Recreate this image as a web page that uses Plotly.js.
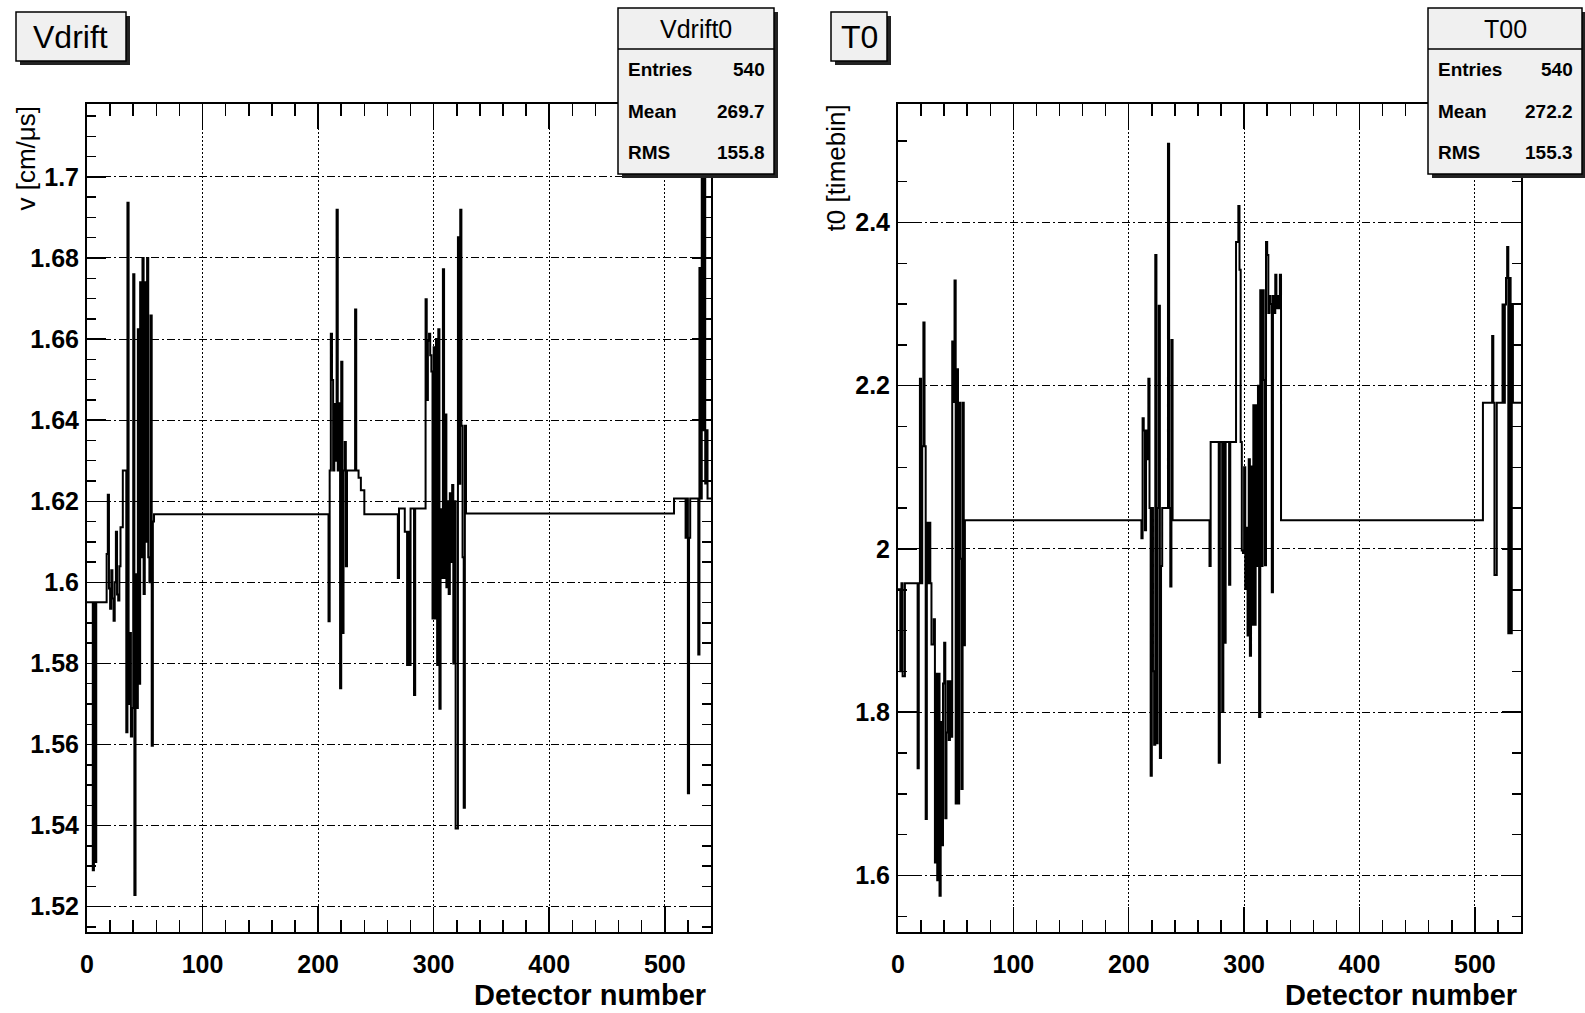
<!DOCTYPE html>
<html>
<head>
<meta charset="utf-8">
<script src="https://cdn.plot.ly/plotly-3.0.1.min.js"></script>
<style>html,body{margin:0;padding:0;background:#fff;}#chart{width:1585px;height:1013px;}</style>
</head>
<body>
<div id="chart"></div>
<script>
// ---- Data (run-length: first bin of each run, and the bin content of that run) ----
const nBins = 540;
const vdriftStart = [0,5,6,7,8,17,18,19,20,21,22,23,24,25,26,27,28,29,31,34,35,36,37,38,39,40,41,42,43,44,45,46,47,48,49,50,51,52,53,54,55,56,57,58,
  209,210,211,212,213,214,215,216,217,218,219,220,221,222,223,224,225,232,233,235,237,240,269,270,275,277,278,279,280,283,284,
  293,294,295,296,297,298,299,300,301,302,303,304,305,306,307,308,309,310,311,312,313,314,315,316,317,318,319,321,322,323,324,325,326,327,328,
  508,518,519,520,521,522,529,530,531,532,533,534,535,536,537];
const vdriftValue = [1.5951,1.5290,1.5951,1.5310,1.5951,1.6070,1.6216,1.5985,1.5935,1.6030,1.5960,1.5905,1.6000,1.6125,1.5970,1.5955,1.6040,1.6136,1.6276,1.5630,1.6936,1.5700,1.5875,1.5620,1.5690,1.6760,1.5229,1.6020,1.5690,1.6624,1.5750,1.6740,1.6062,1.6800,1.5971,1.6740,1.6100,1.6800,1.6062,1.6000,1.6658,1.5597,1.6150,1.6168,
  1.5904,1.6276,1.6613,1.6499,1.6276,1.6440,1.6300,1.6919,1.6276,1.6442,1.5739,1.6544,1.5875,1.6276,1.6346,1.6040,1.6276,1.6673,1.6276,1.6258,1.6227,1.6168,1.6011,1.6182,1.6125,1.5796,1.6125,1.5796,1.6182,1.5722,1.6182,
  1.6698,1.6450,1.6596,1.6613,1.6560,1.6520,1.5911,1.6580,1.5911,1.6600,1.5796,1.6624,1.5688,1.6180,1.6011,1.6772,1.6011,1.6414,1.5988,1.6200,1.5971,1.6220,1.6050,1.6240,1.5800,1.6200,1.5393,1.6851,1.6243,1.6919,1.6386,1.6062,1.5444,1.6386,1.6170,
  1.6207,1.6110,1.6207,1.5480,1.6110,1.6207,1.5822,1.6775,1.6207,1.7250,1.6375,1.7250,1.6244,1.6375,1.6207];

const t0Start = [0,2,3,4,6,17,18,19,20,21,22,23,24,25,26,27,28,29,31,32,33,34,35,36,37,38,39,40,41,42,43,44,45,46,47,48,49,50,51,52,53,54,55,56,57,58,
  211,212,213,214,215,216,217,218,219,220,221,222,223,224,225,226,227,228,229,234,235,236,237,238,
  270,271,278,279,281,282,283,284,287,288,293,295,296,297,298,299,300,301,302,303,304,305,306,307,308,309,310,311,312,313,314,315,316,317,318,319,320,321,322,323,324,325,326,327,328,329,330,331,332,
  507,515,516,517,519,524,525,526,527,528,529,530,531,532,533];
const t0Value = [1.9505,1.8503,1.9580,1.8440,1.9580,1.7314,1.9580,2.2085,1.9580,2.1258,2.2773,2.1258,1.6690,2.0320,1.9580,2.0320,1.9580,1.8830,1.9140,1.6157,1.8470,1.5940,1.8470,1.5750,1.7880,1.6370,1.8350,1.8850,1.6700,1.7750,1.8380,1.7660,1.8380,1.7700,2.2540,2.1800,2.3290,1.6880,2.2200,1.6880,2.1790,1.9880,1.7060,2.1790,1.8820,2.0350,
  2.0130,2.1600,2.1450,2.0230,2.1450,2.1100,2.2085,2.0500,1.7220,2.0500,1.8500,1.7600,2.3600,1.7620,2.0500,2.2980,1.7440,1.9790,2.0500,2.4964,2.0500,1.9540,2.2560,2.0350,
  1.9790,2.1310,1.7380,2.1310,1.8010,2.1310,1.8850,2.1310,1.9560,2.1310,2.3760,2.4200,2.3420,2.1310,1.9980,1.9950,2.1000,1.9510,2.0260,1.8940,2.1100,1.8690,2.1010,1.9070,2.1760,1.9070,2.1760,1.9790,2.2000,1.7940,2.3170,1.9790,2.3170,2.2070,1.9800,2.3760,2.3600,2.2890,2.3100,2.3000,1.9470,2.3100,2.2890,2.3360,2.2950,2.3100,2.2950,2.3360,2.0350,
  2.1790,2.2610,2.1790,1.9680,2.1790,2.2995,2.1790,2.2995,2.3320,2.3700,1.8966,2.3320,1.8966,2.3000,2.1790];

const xTitle = 'Detector number';
const vdTitle = 'Vdrift', vdStatsName = 'Vdrift0', vdYTitle = 'v [cm/μs]';
const vdStats = [['Entries','540'],['Mean','269.7'],['RMS','155.8']];
const t0Title = 'T0', t0StatsName = 'T00', t0YTitle = 't0 [timebin]';
const t0Stats = [['Entries','540'],['Mean','272.2'],['RMS','155.3']];

// ---- helpers ----
const W = 1585, H = 1013;
const px = x => x / W;
const py = y => 1 - y / H;

function stepTrace(starts, values, xa, ya) {
  const xs = starts.concat([nBins]);
  const ys = values.concat([values[values.length - 1]]);
  return {x: xs, y: ys, type: 'scatter', mode: 'lines', xaxis: xa, yaxis: ya,
    line: {shape: 'hv', color: '#000', width: 2}, hoverinfo: 'skip', showlegend: false};
}

const tickFont = {family: 'Liberation Sans, Arial, sans-serif', size: 25, color: '#000', weight: 'bold'};

function xAxis(domain, anchor) {
  return {domain: domain, anchor: anchor, range: [0, 540], tick0: 0, dtick: 100,
    ticks: 'inside', ticklen: 25, tickwidth: 1.5, tickcolor: '#000',
    minor: {dtick: 20, ticks: 'inside', ticklen: 12, tickwidth: 1.5, tickcolor: '#000', showgrid: false},
    showline: true, linecolor: '#000', linewidth: 2, mirror: 'allticks',
    showgrid: true, gridcolor: '#000', gridwidth: 1, griddash: '2px,2px',
    zeroline: false, tickfont: tickFont, ticklabelstandoff: 9, fixedrange: true};
}
function yAxis(domain, anchor, range, dtick, minor) {
  return {domain: domain, anchor: anchor, range: range, dtick: dtick,
    ticks: 'inside', ticklen: 19, tickwidth: 1.5, tickcolor: '#000',
    minor: {dtick: minor, ticks: 'inside', ticklen: 9, tickwidth: 1.5, tickcolor: '#000', showgrid: false},
    showline: true, linecolor: '#000', linewidth: 2, mirror: 'allticks',
    showgrid: true, gridcolor: '#000', gridwidth: 1, griddash: '8px,3px,2px,3px',
    zeroline: false, tickfont: tickFont, ticklabelstandoff: 1, fixedrange: true};
}

const shapes = [];
const annotations = [];
function box(x0, y0, x1, y1) {
  shapes.push({type: 'rect', xref: 'paper', yref: 'paper', x0: px(x0 + 4), x1: px(x1 + 4), y0: py(y1 + 4), y1: py(y0 + 4),
    fillcolor: '#222', line: {width: 0}, layer: 'above'});
  shapes.push({type: 'rect', xref: 'paper', yref: 'paper', x0: px(x0), x1: px(x1), y0: py(y1), y1: py(y0),
    fillcolor: '#f0f0f0', line: {color: '#000', width: 1.5}, layer: 'above'});
}
function text(t, x, y, size, xanchor, yanchor, weight, angle) {
  annotations.push({text: t, xref: 'paper', yref: 'paper', x: px(x), y: py(y), showarrow: false,
    xanchor: xanchor, yanchor: yanchor, textangle: angle || 0,
    font: {family: 'Liberation Sans, Arial, sans-serif', size: size, color: '#000', weight: weight || 'normal'}});
}
function statsBox(x0, x1, name, rows) {
  box(x0, 8, x1, 174);
  shapes.push({type: 'line', xref: 'paper', yref: 'paper', x0: px(x0), x1: px(x1), y0: py(49), y1: py(49),
    line: {color: '#000', width: 1.5}, layer: 'above'});
  text(name, (x0 + x1) / 2, 29, 25, 'center', 'middle');
  const ys = [70, 111, 152];
  rows.forEach((r, i) => {
    text(r[0], x0 + 8, ys[i], 19, 'left', 'middle', 'bold');
    text(r[1], x1 - 7, ys[i], 19, 'right', 'middle', 'bold');
  });
}

// title boxes
box(16, 12, 126, 61);
text(vdTitle, 70, 37, 32, 'center', 'middle');
box(831, 12, 887, 61);
text(t0Title, 859, 37, 32, 'center', 'middle');
// stats boxes
statsBox(618, 774, vdStatsName, vdStats);
statsBox(1428, 1582, t0StatsName, t0Stats);
// axis titles
text(vdYTitle, 25, 104, 26, 'center', 'top', 'normal', -90);
text(t0YTitle, 835, 103, 26, 'center', 'top', 'normal', -90);
text(xTitle, 708, 1013, 29, 'right', 'bottom', 'bold');
text(xTitle, 1519, 1013, 29, 'right', 'bottom', 'bold');

const dom = [py(932), py(104)];
const layout = {
  width: W, height: H, margin: {l: 0, r: 0, t: 0, b: 0},
  paper_bgcolor: '#fff', plot_bgcolor: '#fff', showlegend: false,
  xaxis: xAxis([px(87), px(711)], 'y'),
  yaxis: yAxis(dom, 'x', [1.51376, 1.71798], 0.02, 0.005),
  xaxis2: xAxis([px(898), px(1521)], 'y2'),
  yaxis2: yAxis(dom, 'x2', [1.5307, 2.5451], 0.2, 0.05),
  shapes: shapes, annotations: annotations
};

Plotly.newPlot('chart', [
  stepTrace(vdriftStart, vdriftValue, 'x', 'y'),
  stepTrace(t0Start, t0Value, 'x2', 'y2')
], layout, {staticPlot: true, displayModeBar: false});
</script>
</body>
</html>
